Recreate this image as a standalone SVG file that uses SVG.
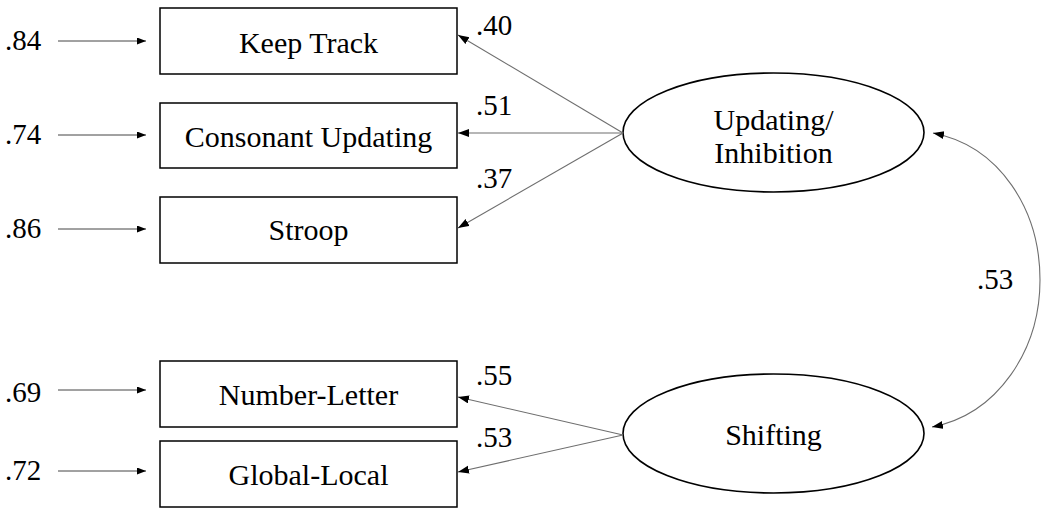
<svg xmlns="http://www.w3.org/2000/svg" width="1050" height="517" viewBox="0 0 1050 517">
<defs>
<marker id="ah" markerUnits="userSpaceOnUse" markerWidth="12" markerHeight="9" refX="11" refY="4" orient="auto-start-reverse">
<path d="M0,0 L11,4 L0,8 z" fill="#000"/>
</marker>
<marker id="ahs" markerUnits="userSpaceOnUse" markerWidth="10" markerHeight="8" refX="9" refY="3.5" orient="auto">
<path d="M0,0 L9,3.5 L0,7 z" fill="#000"/>
</marker>
</defs>
<style>
text{font-family:"Liberation Serif","Times New Roman",serif;fill:#000}
.lbl{font-size:30px;text-anchor:middle}
.num{font-size:29px}
.box{fill:#fff;stroke:#000;stroke-width:1.5}
.lat{fill:#fff;stroke:#000;stroke-width:1.6}
.load{stroke:#6e6e6e;stroke-width:1.1;fill:none;marker-end:url(#ah)}
.err{stroke:#444;stroke-width:1;fill:none;marker-end:url(#ahs)}
.cov{stroke:#6e6e6e;stroke-width:1.1;fill:none;marker-start:url(#ah);marker-end:url(#ah)}
</style>
<g id="keep-track"><rect class="box" x="160" y="8" width="297" height="66"/><text class="lbl" x="308.5" y="53">Keep Track</text></g>
<g id="consonant-updating"><rect class="box" x="160" y="103" width="297" height="65"/><text class="lbl" x="308.5" y="147">Consonant Updating</text></g>
<g id="stroop"><rect class="box" x="160" y="197" width="297" height="66"/><text class="lbl" x="308.5" y="240">Stroop</text></g>
<g id="number-letter"><rect class="box" x="160" y="361" width="297" height="66"/><text class="lbl" x="308.5" y="405">Number-Letter</text></g>
<g id="global-local"><rect class="box" x="160" y="441" width="297" height="66"/><text class="lbl" x="308.5" y="485">Global-Local</text></g>
<g id="updating-inhibition"><ellipse class="lat" cx="773.5" cy="132.5" rx="150.5" ry="59.5"/><text class="lbl" x="773.5" y="130">Updating/</text><text class="lbl" x="773.5" y="163">Inhibition</text></g>
<g id="shifting"><ellipse class="lat" cx="773.5" cy="433.5" rx="150.5" ry="59.5"/><text class="lbl" x="773.5" y="445">Shifting</text></g>
<g id="connectors">
<line class="err" x1="58" y1="41" x2="146" y2="41"/>
<line class="err" x1="58" y1="135" x2="146" y2="135"/>
<line class="err" x1="58" y1="229" x2="146" y2="229"/>
<line class="err" x1="58" y1="390" x2="146" y2="390"/>
<line class="err" x1="58" y1="471" x2="146" y2="471"/>
<line class="load" x1="623" y1="133" x2="458" y2="35"/>
<line class="load" x1="623" y1="133" x2="458" y2="133"/>
<line class="load" x1="623" y1="133" x2="458" y2="228"/>
<line class="load" x1="623" y1="435" x2="458" y2="397"/>
<line class="load" x1="623" y1="435" x2="458" y2="472"/>
<path class="cov" d="M933,133 C1000,146 1040,210 1040,280 C1040,350 998,414 932,427"/>
</g>
<g id="labels">
<text class="num" x="5" y="50">.84</text>
<text class="num" x="5" y="144">.74</text>
<text class="num" x="5" y="238">.86</text>
<text class="num" x="5" y="402">.69</text>
<text class="num" x="5" y="480">.72</text>
<text class="num" x="476" y="35">.40</text>
<text class="num" x="476" y="115">.51</text>
<text class="num" x="476" y="188">.37</text>
<text class="num" x="476" y="385">.55</text>
<text class="num" x="476" y="447">.53</text>
<text class="num" x="977" y="289">.53</text>
</g>
</svg>
